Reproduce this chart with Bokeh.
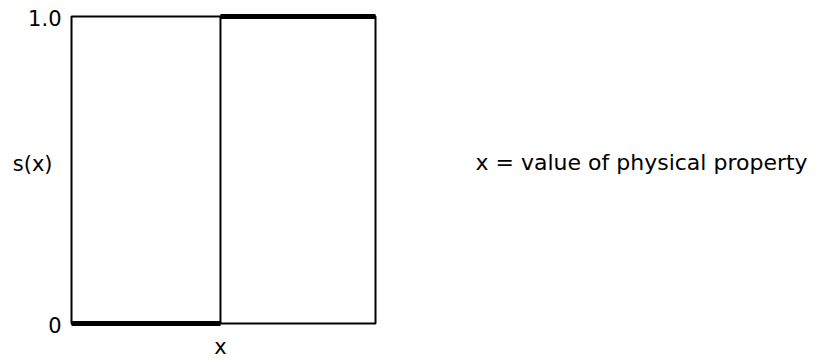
from bokeh.plotting import figure
from bokeh.models import Range1d
from bokeh.core.properties import value
from bokeh.embed import file_html
from bokeh.resources import INLINE

# Step (indicator) function s(x): 0 below the threshold, 1 above it
step_x = [0.0, 0.49, 0.49, 1.0]
step_s = [0.0, 0.0, 1.0, 1.0]

# Flat parts of the step, drawn heavier
flat_x0 = [0.0, 0.49]
flat_x1 = [0.49, 1.0]
flat_s = [0.0, 1.0]

# Value axis ticks
y_ticks = [0.0, 1.0]
y_tick_labels = ["0", "1.0"]

# Box enclosing the unit square of the graph
box_left, box_right, box_bottom, box_top = 0.0, 1.0, 0.0, 1.0

FONT = value("DejaVu Sans")
FS = "21px"

# The whole canvas is the plotting frame; the unit square occupies the left part
p = figure(width=822, height=363, output_backend="svg", toolbar_location=None,
           x_range=Range1d(-0.2336, 2.4704), y_range=Range1d(-0.1303, 1.0521),
           min_border=0)
p.axis.visible = False
p.grid.visible = False
p.outline_line_color = None
p.background_fill_color = "white"
p.border_fill_color = "white"

# frame of the graph
p.quad(left=[box_left], right=[box_right], bottom=[box_bottom], top=[box_top],
       fill_color=None, line_color="black", line_width=2)

# the step function
p.line(step_x, step_s, line_color="black", line_width=2)
p.segment(x0=flat_x0, y0=flat_s, x1=flat_x1, y1=flat_s,
          line_color="black", line_width=5)

# tick labels on the value axis
p.text(x=[box_left] * len(y_ticks), y=y_ticks, text=y_tick_labels,
       text_font=FONT, text_font_size=FS, text_color="black",
       text_align="right", text_baseline="middle", x_offset=-10, y_offset=2)

# axis titles
p.text(x=[box_left], y=[0.52], text=["s(x)"], text_font=FONT,
       text_font_size=FS, text_color="black",
       text_align="right", text_baseline="middle", x_offset=-19)
p.text(x=[0.49], y=[box_bottom], text=["x"], text_font=FONT,
       text_font_size=FS, text_color="black",
       text_align="center", text_baseline="middle", y_offset=24)

# explanatory note
p.text(x=[1.329], y=[0.524], text=["x = value of physical property"],
       text_font=FONT, text_font_size="22px", text_color="black",
       text_align="left", text_baseline="middle")

open("out.html", "w").write(file_html(p, INLINE))
